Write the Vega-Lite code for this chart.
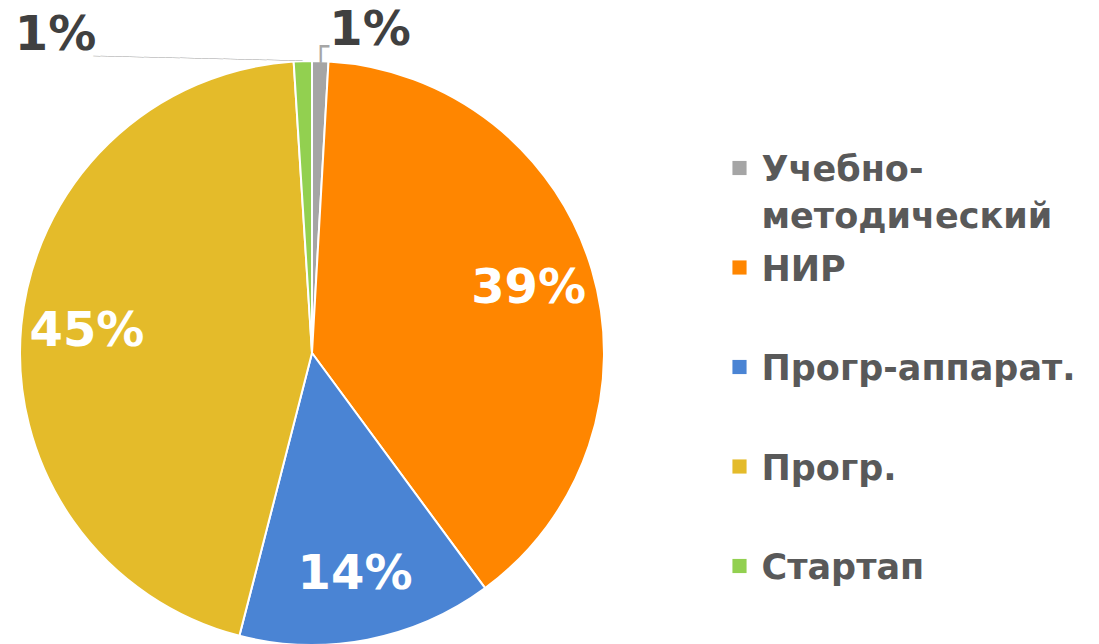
{
  "$schema": "https://vega.github.io/schema/vega-lite/v6.json",
  "padding": {"left": 0, "top": 7, "right": 0, "bottom": 0},
  "background": "white",
  "bounds": "flush",
  "config": {"view": {"stroke": null}, "font": "DejaVu Sans", "concat": {"spacing": 135}},
  "datasets": {
    "shares": [
      {"cat": "Учебно-методический", "label": "Учебно-\nметодический", "share": 0.009, "i": 1},
      {"cat": "НИР", "label": "НИР", "share": 0.39, "i": 2},
      {"cat": "Прогр-аппарат.", "label": "Прогр-аппарат.", "share": 0.141, "i": 3},
      {"cat": "Прогр.", "label": "Прогр.", "share": 0.45, "i": 4},
      {"cat": "Стартап", "label": "Стартап", "share": 0.01, "i": 5}
    ]
  },
  "hconcat": [
    {
      "width": 584,
      "height": 584,
      "data": {"name": "shares"},
      "encoding": {
        "order": {"field": "i", "type": "quantitative"},
        "detail": {"field": "cat", "type": "nominal"}
      },
      "layer": [
        {
          "mark": {"type": "arc", "stroke": "white", "strokeWidth": 2},
          "encoding": {
            "theta": {"field": "share", "type": "quantitative", "stack": true},
            "color": {
              "field": "cat", "type": "nominal",
              "scale": {
                "domain": ["Учебно-методический", "НИР", "Прогр-аппарат.", "Прогр.", "Стартап"],
                "range": ["#A5A5A5", "#FF8600", "#4A84D4", "#E4BB2A", "#92D050"]
              },
              "legend": null
            }
          }
        },
        {
          "mark": {"type": "text", "radius": 226, "fontSize": 48, "fontWeight": "bold", "align": "center", "baseline": "middle", "color": "white"},
          "encoding": {
            "theta": {"field": "share", "type": "quantitative", "stack": true},
            "text": {"condition": {"test": "datum.share < 0.05", "value": ""}, "field": "share", "type": "quantitative", "format": ".0%"}
          }
        },
        {
          "transform": [
            {"stack": "share", "groupby": [], "sort": [{"field": "i"}], "as": ["s0", "s1"]},
            {"filter": "datum.cat === 'Учебно-методический'"}
          ],
          "mark": {"type": "text", "radius": 310, "dx": 58, "dy": -12, "fontSize": 48, "fontWeight": "bold", "align": "center", "baseline": "middle", "color": "#404040"},
          "encoding": {
            "theta": {"field": "s0", "type": "quantitative", "stack": null},
            "text": {"field": "share", "type": "quantitative", "format": ".0%"}
          }
        },
        {
          "transform": [
            {"stack": "share", "groupby": [], "sort": [{"field": "i"}], "as": ["s0", "s1"]},
            {"filter": "datum.cat === 'Стартап'"}
          ],
          "mark": {"type": "text", "radius": 310, "dx": -237, "dy": -8, "fontSize": 48, "fontWeight": "bold", "align": "center", "baseline": "middle", "color": "#404040"},
          "encoding": {
            "theta": {"field": "s0", "type": "quantitative", "stack": null},
            "text": {"field": "share", "type": "quantitative", "format": ".0%"}
          }
        },
        {
          "mark": {"type": "text", "radius": 294, "dy": -1, "align": "right", "baseline": "alphabetic", "font": "DejaVu Sans Mono", "fontSize": 12, "angle": 1.3, "color": "#A6A6A6"},
          "encoding": {
            "theta": {"field": "share", "type": "quantitative", "stack": true},
            "text": {"condition": {"test": "datum.cat !== 'Стартап'", "value": ""}, "value": "_____________________________"}
          }
        },
        {
          "mark": {"type": "text", "radius": 305, "dx": -8, "align": "left", "baseline": "middle", "font": "DejaVu Sans Mono", "fontSize": 28, "color": "#A6A6A6"},
          "encoding": {
            "theta": {"field": "share", "type": "quantitative", "stack": true},
            "text": {"condition": {"test": "datum.cat !== 'Учебно-методический'", "value": ""}, "value": "┌"}
          }
        }
      ]
    },
    {
      "width": 1,
      "height": 584,
      "data": {"name": "shares"},
      "encoding": {
        "y": {
          "field": "cat", "type": "nominal",
          "scale": {"type": "point", "padding": 0, "domain": ["Учебно-методический", "НИР", "Прогр-аппарат.", "Прогр.", "Стартап"], "range": [107, 505]},
          "axis": null
        }
      },
      "layer": [
        {
          "mark": {"type": "square", "size": 200, "opacity": 1, "filled": true},
          "encoding": {
            "color": {
              "field": "cat", "type": "nominal",
              "scale": {
                "domain": ["Учебно-методический", "НИР", "Прогр-аппарат.", "Прогр.", "Стартап"],
                "range": ["#A5A5A5", "#FF8600", "#4A84D4", "#E4BB2A", "#92D050"]
              },
              "legend": null
            }
          }
        },
        {
          "mark": {"type": "text", "align": "left", "baseline": "alphabetic", "dx": 22, "dy": 13, "fontSize": 35, "fontWeight": "bold", "color": "#595959", "lineBreak": "\n", "lineHeight": 47},
          "encoding": {"text": {"field": "label", "type": "nominal"}}
        }
      ]
    }
  ]
}
